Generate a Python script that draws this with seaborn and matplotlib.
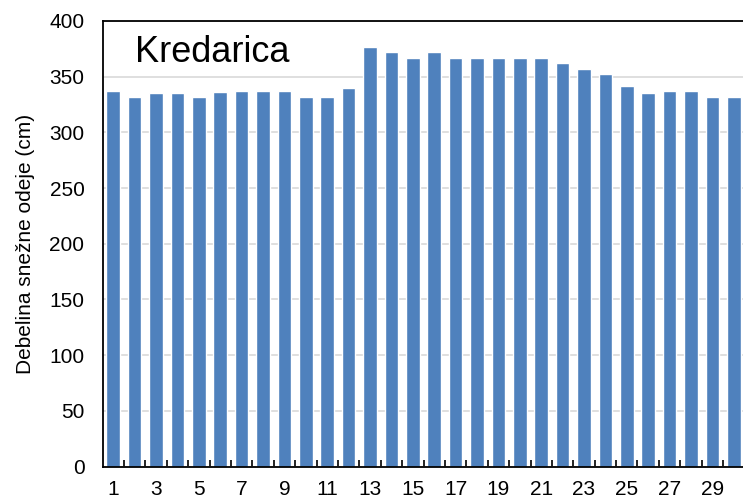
import numpy as np
import pandas as pd
import matplotlib
matplotlib.use("Agg")
import matplotlib.pyplot as plt
import seaborn as sns

# snow depth at Kredarica by day of month (cm)
days = list(range(1, 31))
depth = [337, 332, 335, 335, 332, 336, 337, 337, 337, 332,
         332, 340, 377, 372, 367, 372, 367, 367, 367, 367,
         367, 362, 357, 352, 342, 335, 337, 337, 332, 332]
y_ticks = [0, 50, 100, 150, 200, 250, 300, 350, 400]
title = "Kredarica"
y_label = "Debelina snežne odeje (cm)"

df = pd.DataFrame({"day": days, "depth": depth})

sns.set_theme(style="white")
plt.rcParams["font.family"] = ["Liberation Sans", "DejaVu Sans"]

fig = plt.figure(figsize=(7.43, 4.99), dpi=100)
ax = fig.add_axes([0.138, 0.065, 0.864, 0.893])

sns.barplot(data=df, x="day", y="depth", color="#4F81BD", saturation=1,
            width=0.63, order=days, ax=ax, zorder=2)

ax.set_ylim(0, 400)
ax.set_xlim(-0.5, len(days) - 0.5)
ax.set_yticks(y_ticks)
ax.set_yticklabels([str(v) for v in y_ticks])
ax.yaxis.grid(True, color="#D9D9D9", linewidth=1.2, zorder=0)
ax.set_axisbelow(True)

# odd day labels, boundary ticks between bars
ax.set_xticks(np.arange(0, len(days), 2))
ax.set_xticklabels([str(d) for d in days[::2]])
ax.set_xticks(np.arange(0.5, len(days) - 0.5, 1), minor=True)
ax.tick_params(axis="x", which="major", bottom=True, length=0, pad=10,
               labelsize=15, colors="black")
ax.tick_params(axis="x", which="minor", bottom=True, length=5, width=1.2,
               direction="in", color="black")
ax.tick_params(axis="y", length=0, pad=13, labelsize=15, colors="black")

for side in ["left", "bottom", "top", "right"]:
    ax.spines[side].set_visible(True)
    ax.spines[side].set_color("black")
    ax.spines[side].set_linewidth(1.3)

ax.set_xlabel("")
ax.set_ylabel(y_label, fontsize=15, color="black", labelpad=10)

ax.text(0.05, 0.93, title, transform=ax.transAxes, fontsize=26,
        color="black", ha="left", va="center")

plt.savefig("out.png", dpi=100)
